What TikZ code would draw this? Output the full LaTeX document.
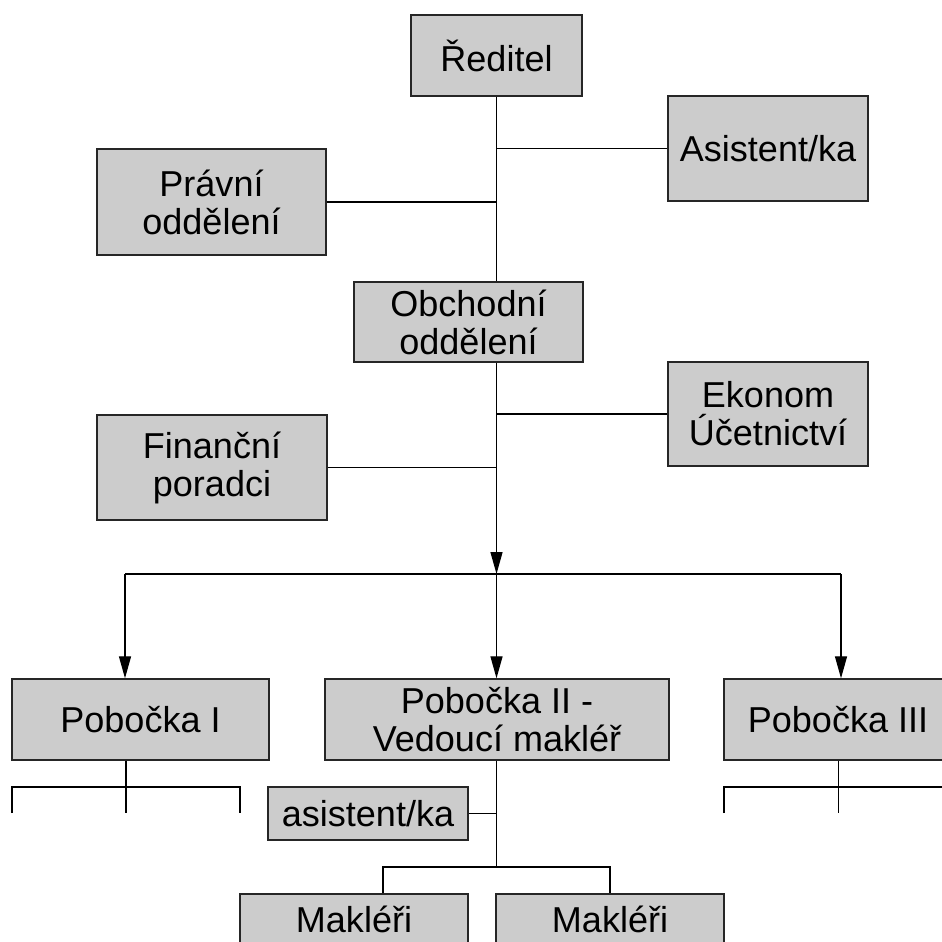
\documentclass[tikz,border=0pt]{standalone}
\usepackage{fontspec}
\setmainfont{Liberation Sans}
\usetikzlibrary{arrows.meta}

\begin{document}
\begin{tikzpicture}[x=0.02cm, y=-0.02cm,
		box/.style={draw=black!85, fill=black!20, line width=0.8pt, align=center, inner sep=0pt},
		boxsize/.style 2 args={minimum width=#1*0.02cm, minimum height=#2*0.02cm},
		link/.style={line width=0.75pt},
		>={Triangle[length=4.4mm, width=2.4mm]}]
				\fontsize{20.5pt}{21.6pt}\selectfont
				\useasboundingbox (0,0) rectangle (942,941);
				\clip (0,0) rectangle (942,941);
				\pgfmathsetmacro{\trunk}{496.5}

				\node[box, boxsize={171}{81}] (reditel) at (\trunk,55.5) {Ředitel};
				\node[box, boxsize={200}{105}] (asistent) at (768,148.5) {Asistent/ka};
				\node[box, boxsize={229}{106}] (pravni) at (211.5,202) {Právní\\oddělení};
				\node[box, boxsize={229}{80}] (obchodni) at (468.5,322) {Obchodní\\oddělení};
				\node[box, boxsize={200}{104}] (ekonom) at (768,414) {Ekonom\\Účetnictví};
				\node[box, boxsize={230}{105}] (financni) at (212,467.5) {Finanční\\poradci};

				\draw[link] (reditel.south) -- (reditel.south |- obchodni.north);
				\draw[link] (asistent.west) -- (asistent.west -| reditel.south);
				\draw[link] (pravni.east) -- (pravni.east -| reditel.south);

				\coordinate (split) at (\trunk,574);
				\coordinate (splitL) at (125,574);
				\coordinate (splitR) at (841,574);
				\draw[link, ->] (split |- obchodni.south) -- (split);
				\draw[link] (ekonom.west) -- (ekonom.west -| split);
				\draw[link] (financni.east) -- (financni.east -| split);

				% pobocky
				\node[box, boxsize={257}{81}] (pob1) at (140.5,719.5) {Pobočka I};
				\node[box, boxsize={344}{81}] (pob2) at (497,719.5) {Pobočka II -\\Vedoucí makléř};
				\node[box, boxsize={228}{81}] (pob3) at (838,719.5) {Pobočka III};

				\draw[link] (splitL) -- (splitR);
				\draw[link, ->] (splitL) -- (splitL |- pob1.north);
				\draw[link, ->] (split) -- (split |- pob2.north);
				\draw[link, ->] (splitR) -- (splitR |- pob3.north);

				% pobocka I a III
				\coordinate (bus1) at (126,787);
				\foreach \x/\n in {12/a, 126/b, 240/c} \coordinate (p1\n) at (\x,813);
				\draw[link] (pob1.south -| bus1) -- (p1b);
				\draw[link] (p1a) |- (bus1) -| (p1c);

				\coordinate (bus3) at (838.5,787);
				\foreach \x/\n in {724/a, 838.5/b, 953/c} \coordinate (p3\n) at (\x,813);
				\draw[link] (pob3.south -| bus3) -- (p3b);
				\draw[link] (p3a) |- (bus3) -| (p3c);

				% pobocka II
				\node[box, boxsize={200}{53}] (asist2) at (368,813.5) {asistent/ka};
				\node[box, boxsize={228}{50}] (makl1) at (354,919) {Makléři};
				\node[box, boxsize={228}{50}] (makl2) at (610,919) {Makléři};

				\coordinate (bus2) at (\trunk,867);
				\draw[link] (pob2.south -| bus2) -- (bus2);
				\draw[link] (asist2.east) -- (asist2.east -| bus2);
				\draw[link] ([xshift=0.58cm]makl1.north) |- (bus2) -| (makl2.north);
			\end{tikzpicture}
\end{document}
